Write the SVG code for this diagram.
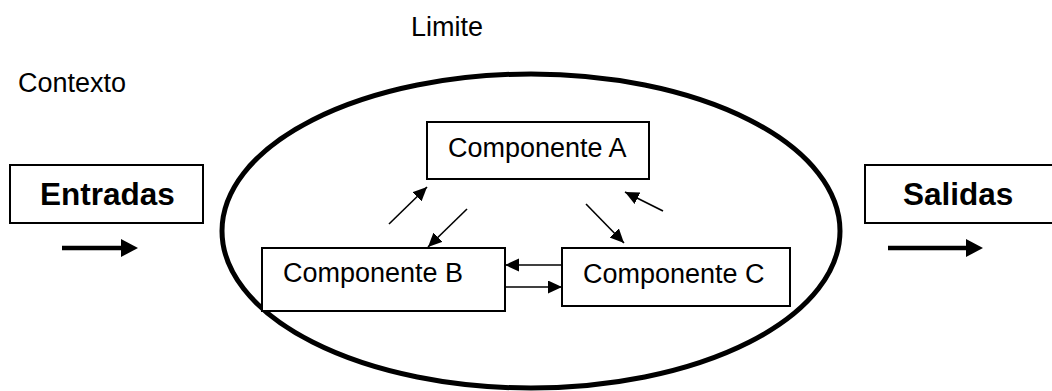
<svg xmlns="http://www.w3.org/2000/svg" width="1052" height="391" viewBox="0 0 1052 391">
<style>
text{font-family:"Liberation Sans",Arial,sans-serif;fill:#000}
.lbl{font-size:27px}
.big{font-size:31.5px;font-weight:bold}
.box{fill:#fff;stroke:#000;stroke-width:2}
.thin{stroke:#000;stroke-width:1.6;fill:none;marker-end:url(#ah)}
.thick{stroke:#000;stroke-width:4.5;fill:none;marker-end:url(#ahb)}
</style>
<defs>
<marker id="ah" markerUnits="userSpaceOnUse" markerWidth="15" markerHeight="14" refX="14" refY="6.5" orient="auto"><path d="M0,0 L14,6.5 L0,13 z" fill="#000"/></marker>
<marker id="ahb" markerUnits="userSpaceOnUse" markerWidth="18" markerHeight="19" refX="0" refY="9" orient="auto"><path d="M0,0 L17,9 L0,18 z" fill="#000"/></marker>
</defs>
<rect width="1052" height="391" fill="#fff"/>
<g id="limite"><text class="lbl" x="411" y="36">Limite</text></g>
<g id="contexto"><text class="lbl" x="18" y="92">Contexto</text></g>
<g id="boundary"><ellipse cx="531" cy="231" rx="309" ry="157" fill="none" stroke="#000" stroke-width="5"/></g>
<g id="entradas"><rect class="box" x="10" y="165" width="193" height="58"/><text class="big" x="40" y="205">Entradas</text></g>
<g id="salidas"><rect class="box" x="865" y="165" width="200" height="58"/><text class="big" x="903" y="205">Salidas</text></g>
<g id="compA"><rect class="box" x="427" y="122" width="222" height="57"/><text class="lbl" x="448" y="157">Componente A</text></g>
<g id="compB"><rect class="box" x="262" y="248" width="243" height="63"/><text class="lbl" x="283" y="282">Componente B</text></g>
<g id="compC"><rect class="box" x="562" y="248" width="228" height="58"/><text class="lbl" x="583" y="283">Componente C</text></g>
<g id="connectors">
<line class="thick" x1="62" y1="248" x2="121" y2="248"/>
<line class="thick" x1="888" y1="248" x2="966" y2="248"/>
<line class="thin" x1="389" y1="224" x2="427" y2="187"/>
<line class="thin" x1="467" y1="209" x2="428" y2="247"/>
<line class="thin" x1="586" y1="204" x2="624" y2="243"/>
<line class="thin" x1="663" y1="211" x2="625" y2="192"/>
<line class="thin" x1="562" y1="265" x2="505" y2="265"/>
<line class="thin" x1="505" y1="287" x2="562" y2="287"/>
</g>
</svg>
